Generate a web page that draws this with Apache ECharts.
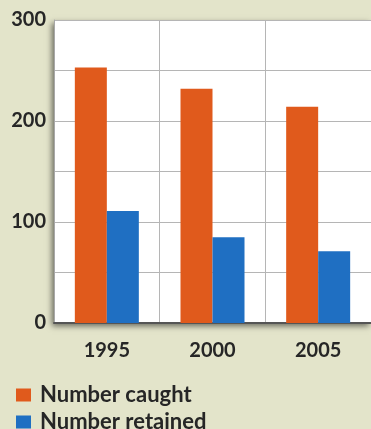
<!DOCTYPE html>
<html><head><meta charset="utf-8">
<script src="https://cdn.jsdelivr.net/npm/echarts@6/dist/echarts.min.js"></script>
<style>html,body{margin:0;padding:0;background:#e3e4ca;}#c{width:371px;height:429px;}</style>
</head><body><div id="c"></div>
<script>
const categories = ['1995', '2000', '2005'];
const numberCaught = [253, 232, 214];
const numberRetained = [111, 85, 71];
const yTicks = [0, 100, 200, 300];
const seriesNames = ['Number caught', 'Number retained'];

const txt = { fontFamily: 'Lato', fontSize: 20, fontWeight: 'bold', color: '#262626' };
const legendBase = {
  left: 16, itemWidth: 15, itemHeight: 13, icon: 'rect', padding: 0,
  textStyle: Object.assign({}, txt, { fontSize: 22, padding: [0, 0, 0, 4] })
};

const chart = echarts.init(document.getElementById('c'));
chart.setOption({
  backgroundColor: '#e3e4ca',
  animation: false,
  textStyle: { fontFamily: 'Lato' },
  grid: {
    left: 54, top: 20, right: -10, bottom: 106,
    show: true, backgroundColor: '#ffffff', borderWidth: 0,
    shadowColor: 'rgba(0,0,0,0.55)', shadowBlur: 6, shadowOffsetX: -2, shadowOffsetY: 3
  },
  legend: [
    Object.assign({}, legendBase, { top: 384, data: [seriesNames[0]] }),
    Object.assign({}, legendBase, { top: 411, data: [seriesNames[1]] })
  ],
  xAxis: {
    type: 'category', data: categories,
    axisLine: { lineStyle: { color: '#555555', width: 2 } },
    axisTick: { show: false },
    splitLine: { show: true, lineStyle: { color: '#b5b5b5', width: 1 } },
    axisLabel: Object.assign({}, txt, { margin: 18 })
  },
  yAxis: {
    type: 'value', min: 0, max: 300, interval: 50,
    axisLine: { show: true, lineStyle: { color: '#a8a8a8', width: 1 } },
    axisTick: { show: false },
    splitLine: { show: true, lineStyle: { color: '#b5b5b5', width: 1 } },
    axisLabel: Object.assign({}, txt, {
      margin: 8,
      formatter: v => yTicks.includes(v) ? String(v) : ''
    })
  },
  series: [
    { name: seriesNames[0], type: 'bar', data: numberCaught, barWidth: 32, barGap: '0%',
      itemStyle: { color: '#e05a1c' } },
    { name: seriesNames[1], type: 'bar', data: numberRetained, barWidth: 32, barGap: '0%',
      itemStyle: { color: '#1f6fc2' } }
  ]
});
</script></body></html>
